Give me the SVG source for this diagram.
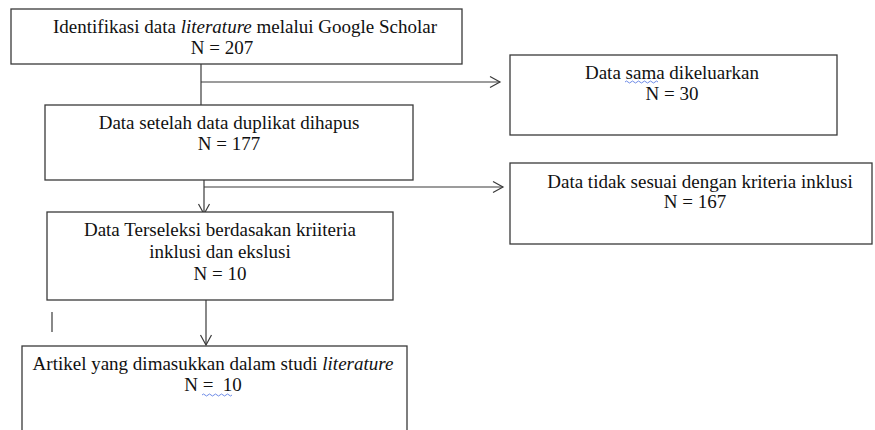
<svg xmlns="http://www.w3.org/2000/svg" width="875" height="430" viewBox="0 0 875 430">
<defs>
<style>
.box{fill:#fff;stroke:#3a3a3a;stroke-width:1.3}
.t{font-family:'Liberation Serif',serif;font-size:19px;fill:#111;text-anchor:middle}
.c{fill:none;stroke:#3a3a3a;stroke-width:1.2}
.w{fill:none;stroke:#4a6ee0;stroke-width:0.8}
</style>
<marker id="ah" markerWidth="14" markerHeight="14" refX="12" refY="7" orient="auto" markerUnits="userSpaceOnUse">
<path d="M2,1.5 L12,7 L2,12.5" fill="none" stroke="#3a3a3a" stroke-width="1.2"/>
</marker>
</defs>
<rect width="875" height="430" fill="#fff"/>
<g id="connectors">
<line class="c" x1="201" y1="58" x2="201" y2="105"/>
<line class="c" x1="201" y1="82" x2="500" y2="82" marker-end="url(#ah)"/>
<line class="c" x1="204" y1="167" x2="204" y2="214" marker-end="url(#ah)"/>
<line class="c" x1="204" y1="187" x2="503" y2="187" marker-end="url(#ah)"/>
<line class="c" x1="206" y1="290" x2="206" y2="345" marker-end="url(#ah)"/>
<line class="c" x1="52" y1="312" x2="52" y2="332"/>
</g>
<g id="n1">
<rect class="box" x="11" y="9" width="451" height="55"/>
<text class="t" x="245" y="33" font-family="Liberation Serif" font-size="19">Identifikasi data <tspan font-style="italic">literature</tspan> melalui Google Scholar</text>
<text class="t" x="222" y="54" font-family="Liberation Serif" font-size="19">N = 207</text>
</g>
<g id="n2">
<rect class="box" x="510" y="55" width="327" height="80"/>
<text class="t" x="672" y="79" font-family="Liberation Serif" font-size="19">Data sama dikeluarkan</text>
<path class="w" d="M625,82 q1.5,-2 3,0 t3,0 t3,0 t3,0 t3,0 t3,0 t3,0 t3,0 t3,0 t3,0 t3,0"/>
<text class="t" x="672" y="100" font-family="Liberation Serif" font-size="19">N = 30</text>
</g>
<g id="n3">
<rect class="box" x="45" y="105" width="368" height="75"/>
<text class="t" x="229" y="129" font-family="Liberation Serif" font-size="19">Data setelah data duplikat dihapus</text>
<text class="t" x="229" y="150" font-family="Liberation Serif" font-size="19">N = 177</text>
</g>
<g id="n4">
<rect class="box" x="510" y="163" width="362" height="81"/>
<text class="t" x="700" y="188" font-family="Liberation Serif" font-size="19">Data tidak sesuai dengan kriteria inklusi</text>
<text class="t" x="695" y="208" font-family="Liberation Serif" font-size="19">N = 167</text>
</g>
<g id="n5">
<rect class="box" x="47" y="212" width="346" height="88"/>
<text class="t" x="220" y="236" font-family="Liberation Serif" font-size="19">Data Terseleksi berdasakan kriiteria</text>
<text class="t" x="220" y="258" font-family="Liberation Serif" font-size="19">inklusi dan ekslusi</text>
<text class="t" x="220" y="280" font-family="Liberation Serif" font-size="19">N = 10</text>
</g>
<g id="n6">
<rect class="box" x="22" y="346" width="385" height="90"/>
<text class="t" x="213" y="370" font-family="Liberation Serif" font-size="18.5">Artikel yang dimasukkan dalam studi <tspan font-style="italic">literature</tspan></text>
<text class="t" x="213" y="391" font-family="Liberation Serif" font-size="19" xml:space="preserve">N =  10</text>
<path class="w" d="M202,395 q1.5,-2 3,0 t3,0 t3,0 t3,0 t3,0 t3,0 t3,0 t3,0 t3,0 t3,0"/>
</g>
</svg>
